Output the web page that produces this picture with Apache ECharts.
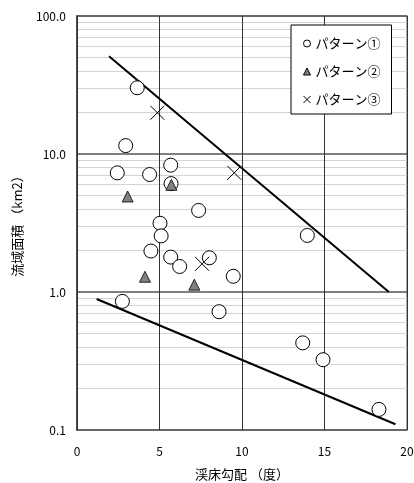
<!DOCTYPE html>
<html>
<head>
<meta charset="utf-8">
<script src="https://cdn.jsdelivr.net/npm/echarts@6/dist/echarts.min.js"></script>
<style>
  html, body { margin: 0; padding: 0; background: #fff; }
  #chart { width: 414px; height: 483px; }
</style>
</head>
<body>
<div id="chart"></div>
<script>
// パターン別の渓床勾配(度)と流域面積(km2)
const pattern1 = [
  [3.65, 30.2], [2.95, 11.5], [2.44, 7.3], [4.4, 7.1], [5.68, 8.3],
  [5.7, 6.1], [7.37, 3.9], [5.03, 3.15], [5.1, 2.55], [4.48, 1.98],
  [5.68, 1.79], [6.22, 1.53], [8.02, 1.77], [9.47, 1.3], [2.75, 0.855],
  [8.61, 0.72], [13.68, 0.428], [14.91, 0.323], [18.3, 0.141], [13.96, 2.57]
]
const pattern2 = [[3.07, 4.92], [5.72, 5.98], [4.12, 1.29], [7.11, 1.13]]
const pattern3 = [[4.87, 19.9], [9.53, 7.31], [7.58, 1.6]]
const upperLine = [[1.94, 51], [18.9, 1.0]]
const lowerLine = [[1.19, 0.89], [19.3, 0.11]]
const names = ['パターン①', 'パターン②', 'パターン③']

const font = '"Noto Sans CJK JP", sans-serif'
const chart = echarts.init(document.getElementById('chart'))

chart.setOption({
  animation: false,
  backgroundColor: '#fff',
  textStyle: { fontFamily: font, color: '#000' },
  grid: {
    left: 77, right: 7, top: 16, bottom: 53,
    containLabel: false, outerBoundsMode: 'none',
    show: true, borderColor: '#888', borderWidth: 1.5
  },
  legend: {
    data: names,
    orient: 'vertical',
    left: 291, top: 25,
    backgroundColor: '#fff',
    borderColor: '#000', borderWidth: 1,
    padding: [11, 11, 7, 10],
    itemWidth: 7, itemHeight: 7, itemGap: 13,
    itemStyle: { borderWidth: 1 },
    textStyle: { fontFamily: font, fontSize: 13, color: '#000', lineHeight: 15 }
  },
  xAxis: {
    type: 'value', min: 0, max: 20, interval: 5,
    name: '渓床勾配 （度）', nameLocation: 'middle', nameGap: 38,
    nameTextStyle: { fontFamily: font, fontSize: 13, color: '#000' },
    axisLine: { show: false },
    axisTick: { show: false },
    axisLabel: { fontFamily: font, fontSize: 12, color: '#000', margin: 15 },
    splitLine: { show: true, lineStyle: { color: '#333', width: 1 } }
  },
  yAxis: {
    type: 'log', logBase: 10, min: 0.1, max: 100,
    name: '流域面積 （km2）', nameLocation: 'middle', nameGap: 53, nameRotate: 90,
    nameTextStyle: { fontFamily: font, fontSize: 13, color: '#000' },
    axisLine: { show: true, lineStyle: { color: '#333', width: 1.5 } },
    axisTick: { show: false },
    axisLabel: {
      fontFamily: font, fontSize: 12, color: '#000', margin: 11,
      formatter: v => Number(v).toFixed(1)
    },
    splitLine: { show: true, lineStyle: { color: '#555', width: 1.5 } },
    minorTick: { show: false, splitNumber: 9 },
    minorSplitLine: { show: true, lineStyle: { color: '#d4d4d4', width: 1 } }
  },
  series: [
    {
      name: names[0], type: 'scatter', data: pattern1, z: 4,
      symbol: 'circle', symbolSize: 14,
      itemStyle: { color: '#fff', borderColor: '#000', borderWidth: 1, opacity: 1 }
    },
    {
      name: names[1], type: 'scatter', data: pattern2, z: 5,
      symbol: 'triangle', symbolSize: 11,
      itemStyle: { color: '#808080', borderColor: '#000', borderWidth: 0.8, opacity: 1 }
    },
    {
      name: names[2], type: 'scatter', data: pattern3, z: 5,
      symbol: 'path://M0,0L10,10M10,0L0,10', symbolSize: 14,
      itemStyle: { color: 'none', borderColor: '#000', borderWidth: 1, opacity: 1 }
    },
    {
      type: 'line', data: upperLine, symbol: 'none', z: 3,
      lineStyle: { color: '#000', width: 2 }
    },
    {
      type: 'line', data: lowerLine, symbol: 'none', z: 3,
      lineStyle: { color: '#000', width: 2 }
    }
  ]
})
</script>
</body>
</html>
